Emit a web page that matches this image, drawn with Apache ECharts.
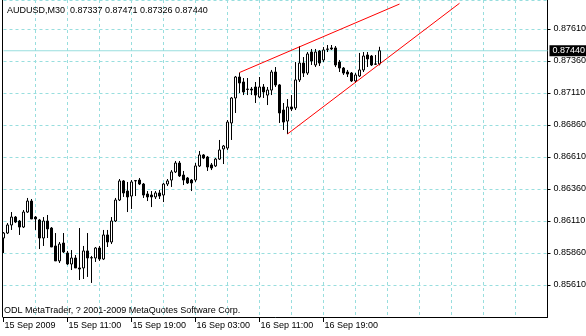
<!DOCTYPE html>
<html><head><meta charset="utf-8">
<script src="https://cdn.jsdelivr.net/npm/echarts@6/dist/echarts.min.js"></script>
<style>html,body{margin:0;padding:0;background:#fff;overflow:hidden}#c{width:586px;height:336px}</style>
</head><body><div id="c"></div>
<script>
const symbolTitle = 'AUDUSD,M30  0.87337 0.87471 0.87326 0.87440';
const copyright = 'ODL MetaTrader, ? 2001-2009 MetaQuotes Software Corp.';

const opens = [0.85977,0.86016,0.86079,0.86141,0.86110,0.86063,0.86180,0.86266,0.86141,0.86118,
0.85977,0.86110,0.86055,0.85915,0.85798,0.85938,0.85860,0.85774,0.85821,0.85743,
0.85743,0.85876,0.85821,0.85821,0.85899,0.85813,0.86001,0.85946,0.86110,0.86274,
0.86423,0.86344,0.86305,0.86423,0.86430,0.86399,0.86321,0.86313,0.86298,0.86329,
0.86313,0.86399,0.86430,0.86493,0.86563,0.86469,0.86446,0.86430,0.86430,0.86540,
0.86626,0.86610,0.86548,0.86540,0.86594,0.86673,0.86680,0.86876,0.87071,0.87235,
0.87196,0.87141,0.87141,0.87157,0.87079,0.87157,0.87094,0.87133,0.87274,0.87173,
0.86977,0.86891,0.87001,0.86993,0.87212,0.87344,0.87266,0.87430,0.87329,0.87438,
0.87368,0.87454,0.87462,0.87462,0.87352,0.87305,0.87274,0.87266,0.87204,0.87243,
0.87290,0.87407,0.87399,0.87337,0.87337];
const closes = [0.86016,0.86079,0.86141,0.86102,0.86063,0.86180,0.86266,0.86126,0.86126,0.85977,
0.86110,0.86048,0.85907,0.85798,0.85930,0.85868,0.85774,0.85821,0.85743,0.85735,
0.85876,0.85821,0.85824,0.85899,0.85813,0.86001,0.85946,0.86110,0.86274,0.86423,
0.86329,0.86298,0.86415,0.86426,0.86399,0.86313,0.86298,0.86298,0.86329,0.86305,
0.86399,0.86423,0.86493,0.86563,0.86462,0.86430,0.86407,0.86407,0.86540,0.86626,
0.86602,0.86532,0.86524,0.86594,0.86665,0.86696,0.86883,0.87071,0.87235,0.87188,
0.87118,0.87138,0.87133,0.87094,0.87157,0.87118,0.87133,0.87274,0.87173,0.86954,
0.86883,0.87001,0.86985,0.87212,0.87344,0.87266,0.87415,0.87360,0.87430,0.87344,
0.87446,0.87451,0.87454,0.87329,0.87305,0.87266,0.87258,0.87204,0.87251,0.87290,
0.87399,0.87376,0.87329,0.87335,0.87440];
const lows = [0.85860,0.86008,0.86040,0.86094,0.86001,0.86055,0.86173,0.86126,0.86040,0.85891,
0.85915,0.85977,0.85907,0.85798,0.85782,0.85860,0.85766,0.85727,0.85743,0.85649,
0.85657,0.85673,0.85626,0.85790,0.85798,0.85805,0.85907,0.85930,0.86102,0.86266,
0.86298,0.86180,0.86204,0.86305,0.86391,0.86290,0.86266,0.86219,0.86282,0.86282,
0.86258,0.86383,0.86376,0.86485,0.86454,0.86391,0.86399,0.86344,0.86415,0.86532,
0.86594,0.86501,0.86508,0.86532,0.86587,0.86555,0.86665,0.86743,0.86954,0.87110,
0.87094,0.87094,0.87094,0.87032,0.87071,0.87071,0.87016,0.87094,0.87157,0.86876,
0.86821,0.86790,0.86969,0.86977,0.87196,0.87235,0.87251,0.87329,0.87313,0.87321,
0.87352,0.87430,0.87446,0.87313,0.87274,0.87251,0.87235,0.87196,0.87188,0.87235,
0.87274,0.87313,0.87321,0.87329,0.87326];
const highs = [0.86024,0.86094,0.86180,0.86149,0.86118,0.86196,0.86290,0.86282,0.86149,0.86126,
0.86141,0.86157,0.86063,0.86016,0.85946,0.86016,0.85876,0.85883,0.85844,0.86055,
0.85915,0.86016,0.85837,0.85907,0.85915,0.86040,0.86040,0.86141,0.86290,0.86438,
0.86430,0.86415,0.86430,0.86430,0.86446,0.86407,0.86344,0.86344,0.86344,0.86352,
0.86407,0.86438,0.86508,0.86579,0.86579,0.86501,0.86454,0.86438,0.86563,0.86657,
0.86633,0.86618,0.86563,0.86602,0.86743,0.86704,0.86899,0.87079,0.87243,0.87270,
0.87227,0.87227,0.87157,0.87196,0.87235,0.87180,0.87157,0.87290,0.87313,0.87180,
0.87032,0.87063,0.87094,0.87352,0.87477,0.87391,0.87430,0.87454,0.87454,0.87446,
0.87469,0.87485,0.87485,0.87477,0.87368,0.87313,0.87290,0.87274,0.87266,0.87423,
0.87430,0.87430,0.87407,0.87407,0.87471];

const slotCount = 137;
const startTime = Date.UTC(2009, 8, 15, 3, 0);
const timeLabelIdx = [0, 16, 32, 48, 64, 80];
const timeLabels = ['15 Sep 2009', '15 Sep 11:00', '15 Sep 19:00', '16 Sep 03:00', '16 Sep 11:00', '16 Sep 19:00'];
const priceMin = 0.8536, priceMax = 0.878366, priceStep = 0.0025;
const lastPrice = 0.87440;
const upperTrend = [[59, 0.87270], [99, 0.87805]];
const lowerTrend = [[71, 0.86790], [114, 0.87811]];

const categories = [];
for (let i = 0; i < slotCount; i++) {
  const d = new Date(startTime + i * 1800000);
  categories.push(d.toISOString().slice(0, 16));
}
const candles = opens.map((o, i) => [o, closes[i], lows[i], highs[i]]);
const priceLine = [[0, lastPrice], [slotCount - 1, lastPrice]];

const FONT = 'Liberation Sans';
const GRID = '#98dede';
const chart = echarts.init(document.getElementById('c'), null, {renderer: 'canvas'});
chart.setOption({
  animation: false,
  backgroundColor: '#fff',
  title: [
    {text: symbolTitle, left: 7, top: 6, padding: 0,
     textStyle: {fontSize: 9, fontWeight: 'normal', fontFamily: FONT, color: '#000'}},
    {text: copyright, left: 4, top: 306, padding: 0,
     textStyle: {fontSize: 9, fontWeight: 'normal', fontFamily: FONT, color: '#000'}}
  ],
  grid: {left: 3.5, right: 38.5, top: 0, bottom: 19, containLabel: false, outerBoundsMode: 'none'},
  xAxis: {
    type: 'category', data: categories, boundaryGap: false,
    axisLine: {show: true, lineStyle: {color: '#000', width: 1}},
    axisTick: {show: true, length: 5, interval: (i) => timeLabelIdx.includes(i), lineStyle: {color: '#000'}},
    axisLabel: {
      interval: (i) => timeLabelIdx.includes(i),
      formatter: (v, i) => { const k = timeLabelIdx.indexOf(i); return k >= 0 ? timeLabels[k] : ''; },
      align: 'left', margin: 4, padding: [0, 0, 0, 1],
      fontSize: 9, fontFamily: FONT, color: '#000'
    },
    splitLine: {show: true, interval: (i) => i > 0 && i % 8 === 0,
      lineStyle: {color: GRID, type: [3, 3], width: 1}}
  },
  yAxis: [{
    type: 'value', position: 'right', min: priceMin, max: priceMax, interval: priceStep, scale: true,
    axisLine: {show: true, lineStyle: {color: '#000', width: 1}},
    axisTick: {show: true, length: 3, lineStyle: {color: '#000'}},
    axisLabel: {showMinLabel: false, showMaxLabel: false, margin: 6,
      formatter: (v) => v.toFixed(5), fontSize: 9, fontFamily: FONT, color: '#000'},
    splitLine: {show: true, lineStyle: {color: GRID, type: [3, 3], width: 1}}
  }, {
    type: 'value', position: 'left', offset: 1.5, min: priceMin, max: priceMax,
    axisLine: {show: true, lineStyle: {color: '#000', width: 1}},
    axisTick: {show: false}, axisLabel: {show: false}, splitLine: {show: false}
  }],
  series: [{
    type: 'line', data: priceLine, symbol: 'none', silent: true, z: 1,
    lineStyle: {color: GRID, width: 1},
    endLabel: {show: true, distance: 2, formatter: () => lastPrice.toFixed(5),
      backgroundColor: '#000', color: '#fff', padding: [1, 3, 1, 3], fontSize: 9, fontFamily: FONT}
  }, {
    type: 'candlestick', data: candles, barWidth: 2, z: 3,
    itemStyle: {color: '#fff', color0: '#000', borderColor: '#000', borderColor0: '#000', borderWidth: 1}
  }, {
    type: 'line', data: upperTrend, symbol: 'none', silent: true, z: 4,
    lineStyle: {color: '#ff0000', width: 1}
  }, {
    type: 'line', data: lowerTrend, symbol: 'none', silent: true, z: 4,
    lineStyle: {color: '#ff0000', width: 1}
  }]
});
</script>
</body></html>
